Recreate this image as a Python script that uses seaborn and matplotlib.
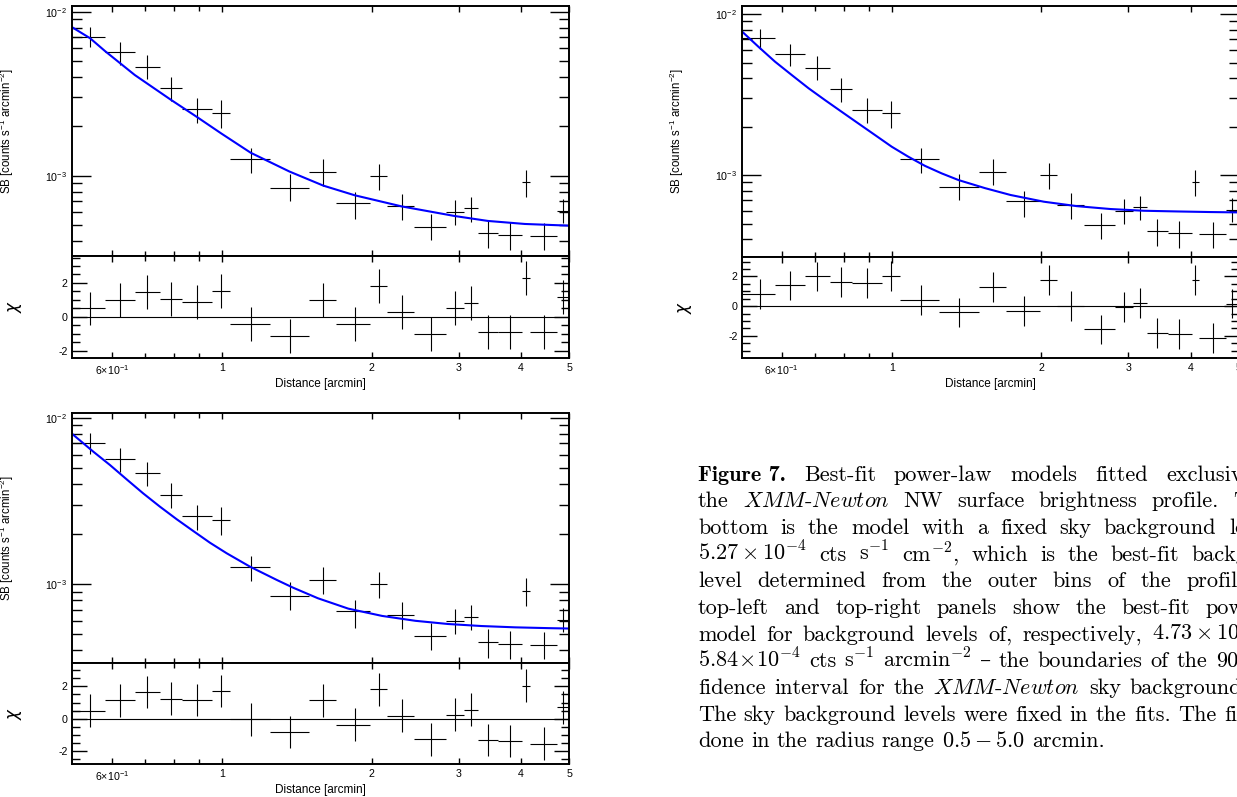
import numpy as np
import seaborn as sns
import matplotlib
matplotlib.use("Agg")
import matplotlib.pyplot as plt
from matplotlib.ticker import FixedLocator, FixedFormatter, NullFormatter, LogLocator, MultipleLocator

# ── Data ───────────────────────────────────────────────────────
r_mid = [0.543, 0.625, 0.708, 0.790, 0.891, 0.997, 1.143, 1.368, 1.60, 1.85,
         2.07, 2.30, 2.64, 2.94, 3.17, 3.43, 3.80, 4.09, 4.45, 4.86]
r_lo = [0.500, 0.582, 0.668, 0.750, 0.832, 0.957, 1.040, 1.248, 1.498, 1.70,
        1.99, 2.15, 2.44, 2.82, 3.07, 3.27, 3.60, 4.02, 4.17, 4.72]
r_hi = [0.582, 0.668, 0.750, 0.832, 0.957, 1.040, 1.248, 1.498, 1.70, 1.99,
        2.15, 2.44, 2.82, 3.07, 3.27, 3.60, 4.02, 4.17, 4.72, 5.00]
sb = [7.05e-3, 5.65e-3, 4.63e-3, 3.41e-3, 2.55e-3, 2.42e-3, 1.26e-3, 8.45e-4, 1.05e-3, 6.85e-4,
      9.95e-4, 6.50e-4, 4.88e-4, 6.02e-4, 6.35e-4, 4.47e-4, 4.35e-4, 9.10e-4, 4.28e-4, 6.08e-4]
sb_lo = [6.06e-3, 4.73e-3, 3.87e-3, 2.85e-3, 2.10e-3, 1.96e-3, 1.035e-3, 6.97e-4, 8.65e-4, 5.45e-4,
         8.20e-4, 5.37e-4, 4.03e-4, 5.00e-4, 5.25e-4, 3.60e-4, 3.53e-4, 7.38e-4, 3.53e-4, 5.13e-4]
sb_hi = [8.10e-3, 6.56e-3, 5.45e-3, 4.02e-3, 2.99e-3, 2.90e-3, 1.48e-3, 1.02e-3, 1.26e-3, 8.00e-4,
         1.18e-3, 7.75e-4, 5.82e-4, 7.10e-4, 7.45e-4, 5.32e-4, 5.20e-4, 1.08e-3, 5.13e-4, 7.20e-4]

chi_tl = [0.49, 1.00, 1.44, 1.05, 0.87, 1.50, -0.45, -1.13, 1.00, -0.45,
          1.80, 0.27, -1.00, 0.52, 0.83, -0.91, -0.91, 2.29, -0.91, 1.15]
chi_tr = [0.80, 1.40, 2.00, 1.62, 1.58, 2.02, 0.40, -0.42, 1.28, -0.31,
          1.75, 0.03, -1.57, -0.05, 0.21, -1.79, -1.88, 1.77, -2.14, 0.17]
chi_bl = [0.50, 1.14, 1.64, 1.24, 1.16, 1.72, -0.04, -0.80, 1.14, -0.36,
          1.82, 0.20, -1.26, 0.26, 0.56, -1.32, -1.38, 2.04, -1.52, 0.70]

# model curves
mod_tl_r = [0.5, 0.543, 0.582, 0.668, 0.79, 0.891, 0.997, 1.143, 1.368, 1.6,
            1.85, 2.3, 2.94, 3.43, 4.07, 5.0]
mod_tl_sb = [8.03e-3, 6.89e-3, 5.75e-3, 4.11e-3, 2.90e-3, 2.28e-3, 1.81e-3, 1.38e-3, 1.06e-3, 8.70e-4,
             7.60e-4, 6.50e-4, 5.68e-4, 5.30e-4, 5.08e-4, 4.96e-4]
mod_tr_r = [0.5, 0.539, 0.582, 0.629, 0.680, 0.734, 0.793, 0.857, 0.926, 1.0, 1.08, 1.167,
            1.26, 1.363, 1.54, 1.735, 2.025, 2.36, 2.76, 3.22, 3.77, 4.39, 5.0]
mod_tr_sb = [7.76e-3, 6.26e-3, 5.06e-3, 4.18e-3, 3.46e-3, 2.92e-3, 2.47e-3, 2.09e-3, 1.77e-3, 1.50e-3,
             1.30e-3, 1.14e-3, 1.025e-3, 9.31e-4, 8.30e-4, 7.52e-4, 6.83e-4, 6.41e-4, 6.15e-4, 6.00e-4,
             5.94e-4, 5.89e-4, 5.86e-4]
mod_bl_r = [0.5, 0.551, 0.595, 0.643, 0.694, 0.75, 0.811, 0.876, 0.946, 1.022, 1.139,
            1.29, 1.39, 1.56, 1.796, 2.1, 2.45, 2.85, 3.33, 3.89, 4.54, 5.0]
mod_bl_sb = [7.98e-3, 6.25e-3, 5.20e-3, 4.26e-3, 3.51e-3, 2.92e-3, 2.45e-3, 2.08e-3, 1.77e-3, 1.53e-3,
             1.27e-3, 1.056e-3, 9.50e-4, 8.20e-4, 7.10e-4, 6.42e-4, 6.00e-4, 5.74e-4, 5.58e-4, 5.48e-4,
             5.42e-4, 5.39e-4]

x_major = [0.6, 1, 2, 3, 4, 5]
x_major_lab = [r"6×10$^{\mathregular{-1}}$", "1", "2", "3", "4", "5"]
x_minor = [0.7, 0.8, 0.9]

# ── Style ──────────────────────────────────────────────────────
sns.set_theme(style="ticks")
plt.rcParams.update({
    "axes.edgecolor": "black",
    "axes.linewidth": 1.4,
    "axes.facecolor": "white",
    "figure.facecolor": "white",
    "xtick.color": "black",
    "ytick.color": "black",
    "text.color": "black",
    "axes.labelcolor": "black",
})
plt.rcParams["font.family"] = ["Liberation Sans", "DejaVu Sans"]

W, H = 1237, 797
fig = plt.figure(figsize=(W / 100, H / 100), dpi=100)


def px_axes(left, top, width, height):
    return fig.add_axes([left / W, 1 - (top + height) / H, width / W, height / H])


def style_x(ax, labels):
    ax.set_xscale("log")
    ax.set_xlim(0.5, 5.0)
    ax.xaxis.set_major_locator(FixedLocator(x_major))
    ax.xaxis.set_minor_locator(FixedLocator(x_minor))
    ax.xaxis.set_minor_formatter(NullFormatter())
    if labels:
        ax.xaxis.set_major_formatter(FixedFormatter(x_major_lab))
    else:
        ax.xaxis.set_major_formatter(NullFormatter())
    ax.tick_params(axis="both", which="both", direction="in", top=True, right=True,
                   width=1.0, labelsize=7.7, pad=3.5)
    ax.tick_params(axis="x", which="major", length=4.5, pad=4)
    ax.tick_params(axis="x", which="minor", length=3.5)


def draw_panel(left, top, width, h_main, h_res, mod_r, mod_sb, chi, ylim_sb, ylim_chi):
    ax = px_axes(left, top, width, h_main)
    axr = px_axes(left, top + h_main, width, h_res)

    xerr = [np.array(r_mid) - np.array(r_lo), np.array(r_hi) - np.array(r_mid)]

    # ── main panel: SB profile ───────────────────────────────
    ax.set_yscale("log")
    style_x(ax, False)
    ax.errorbar(r_mid, sb, xerr=xerr,
                yerr=[np.array(sb) - np.array(sb_lo), np.array(sb_hi) - np.array(sb)],
                fmt="none", ecolor="black", elinewidth=0.8, capsize=0)
    sns.lineplot(x=mod_r, y=mod_sb, ax=ax, color="#0000ff", linewidth=1.5,
                 estimator=None, sort=False)
    ax.set_ylim(*ylim_sb)
    ax.yaxis.set_major_locator(FixedLocator([1e-3, 1e-2]))
    ax.yaxis.set_major_formatter(FixedFormatter([r"10$^{\mathregular{-3}}$", r"10$^{\mathregular{-2}}$"]))
    ax.yaxis.set_minor_locator(LogLocator(base=10, subs=np.arange(2, 10)))
    ax.yaxis.set_minor_formatter(NullFormatter())
    ax.tick_params(axis="y", which="major", length=14)
    ax.tick_params(axis="y", which="minor", length=7)
    ax.set_xlabel("")
    ax.set_ylabel(r"SB [counts s$^{\mathregular{-1}}$ arcmin$^{\mathregular{-2}}$]", fontsize=8.3)
    ax.yaxis.set_label_coords(-56 / width, 0.5)

    # ── residual panel ───────────────────────────────────────
    style_x(axr, True)
    axr.axhline(0, color="black", lw=0.8)
    axr.errorbar(r_mid, chi, xerr=xerr, yerr=1.0, fmt="none", ecolor="black",
                 elinewidth=0.8, capsize=0)
    axr.set_ylim(*ylim_chi)
    axr.yaxis.set_major_locator(FixedLocator([-2, 0, 2]))
    axr.yaxis.set_major_formatter(FixedFormatter(["-2", "0", "2"]))
    axr.yaxis.set_minor_locator(MultipleLocator(0.5))
    axr.tick_params(axis="y", which="major", length=11)
    axr.tick_params(axis="y", which="minor", length=6)
    axr.set_ylabel(r"$\chi$", fontsize=12, rotation=90)
    axr.yaxis.set_label_coords(-48 / width, 0.5)
    axr.set_xlabel("Distance [arcmin]", fontsize=8.5)
    axr.xaxis.set_label_coords(0.5, -20 / h_res)
    return ax, axr


draw_panel(72.3, 5.7, 497.0, 250.3, 101.5, mod_tl_r, mod_tl_sb, chi_tl,
           (3.24e-4, 1.088e-2), (-2.41, 3.59))
draw_panel(742.3, 5.7, 496.3, 251.0, 101.0, mod_tr_r, mod_tr_sb, chi_tr,
           (3.11e-4, 1.127e-2), (-3.47, 3.33))
draw_panel(72.3, 413.3, 497.0, 250.0, 100.5, mod_bl_r, mod_bl_sb, chi_bl,
           (3.33e-4, 1.063e-2), (-2.77, 3.42))

# ── Caption (justified, cut at the right edge of the picture) ──
# each line: words, index of the word that is cut at the edge, its visible part, where that part ends
XMM = r"$\mathit{XMM}$-$\mathit{Newton}$"
caption = [
    (["Figure 7.", "Best-fit", "power-law", "models", "fitted", "exclusively", "to"], 5, "exclusi", 1231),
    (["the", XMM, "NW", "surface", "brightness", "profile.", "The"], 6, "", 1233),
    (["bottom", "is", "the", "model", "with", "a", "fixed", "sky", "background", "level", "of"],
     9, "l", 1235),
    ([r"$5.27\times10^{-4}$", "cts", r"s$^{-1}$", r"cm$^{-2}$,", "which", "is", "the", "best-fit",
      "background"], 8, "back", 1236),
    (["level", "determined", "from", "the", "outer", "bins", "of", "the", "profile.", "The"],
     8, "profil", 1238),
    (["top-left", "and", "top-right", "panels", "show", "the", "best-fit", "power-law"], 7, "po", 1229),
    (["model", "for", "background", "levels", "of,", "respectively,", r"$4.73\times10^{-4}$", "and"],
     6, r"$4.73\times10$", 1240),
    ([r"$5.84\!\times\!10^{-4}$", "cts", r"s$^{-1}$", r"arcmin$^{-2}$", "–", "the", "boundaries", "of",
      "the", "90%", "con-"], 9, "90", 1238),
    (["fidence", "interval", "for", "the", XMM, "sky", "background."], 6, "backgroun", 1230),
    (["The", "sky", "background", "levels", "were", "fixed", "in", "the", "fits.", "The", "fits",
      "were"], 10, "fi", 1237),
    (["done", "in", "the", "radius", "range", r"$0.5-5.0$", "arcmin."], None, None, None),
]

renderer = fig.canvas.get_renderer()
x0, base0, lead = 698.0, 480.7, 26.67
cap_kw = dict(fontsize=16, math_fontfamily="cm", ha="left", va="baseline")


def text_width(s, fam):
    if s == "":
        return 0.0
    t = fig.text(0, 0, s, family=[fam, "DejaVu Serif"], **cap_kw)
    w = t.get_window_extent(renderer).width
    t.remove()
    return w


for k, (words, idx, prefix, end_x) in enumerate(caption):
    y = base0 + k * lead
    texts, widths = [], []
    for i, w in enumerate(words):
        fam = "cmb10" if (k == 0 and i == 0) else "cmr10"
        t = fig.text(x0 / W, 1 - y / H, w, family=[fam, "DejaVu Serif"], **cap_kw)
        texts.append(t)
        widths.append(t.get_window_extent(renderer).width)
    if idx is None:
        gap = 7.4
    else:
        start = end_x - text_width(prefix, "cmr10")
        gap = (start - x0 - sum(widths[:idx])) / idx
    x = x0
    for t, wd in zip(texts, widths):
        t.set_x(x / W)
        x += wd + gap

fig.savefig("out.png", dpi=100)
